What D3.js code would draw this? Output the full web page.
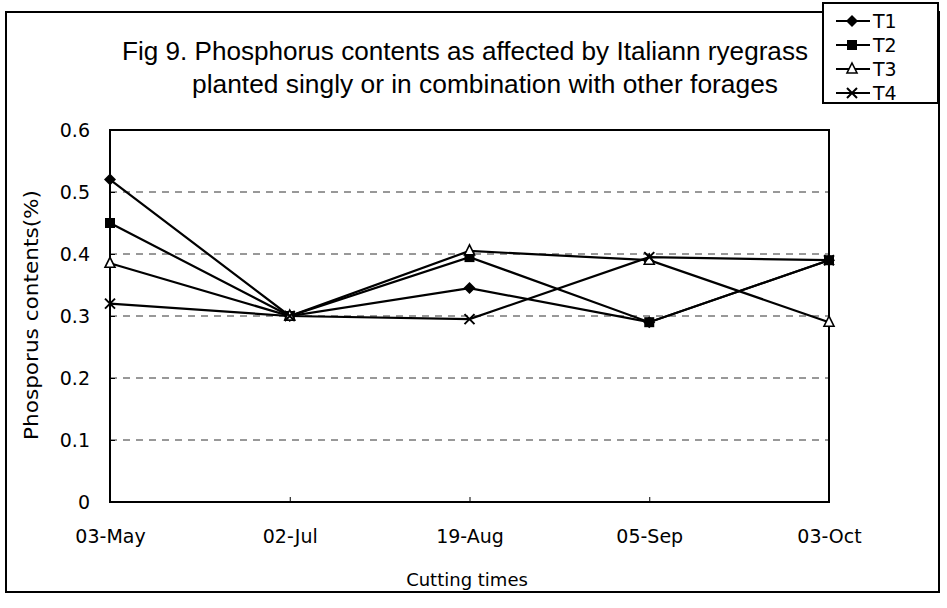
<!DOCTYPE html>
<html>
<head>
<meta charset="utf-8">
<script src="https://cdn.jsdelivr.net/npm/d3@7"></script>
<style>
  body { margin: 0; background: #fff; }
  svg { font-family: "DejaVu Sans", Verdana, sans-serif; }
  .grid line { stroke: #333; stroke-dasharray: 7 6; stroke-width: 1; }
  .series { fill: none; stroke: #000; stroke-width: 2.2; }
</style>
</head>
<body>
<svg id="chart" width="947" height="608"></svg>
<script>
// data
const cuttingTimes = ["03-May", "02-Jul", "19-Aug", "05-Sep", "03-Oct"];
const t1 = [0.52, 0.30, 0.345, 0.29, 0.39];
const t2 = [0.45, 0.30, 0.395, 0.29, 0.39];
const t3 = [0.385, 0.30, 0.405, 0.39, 0.29];
const t4 = [0.32, 0.30, 0.295, 0.395, 0.39];
const yTicks = [0, 0.1, 0.2, 0.3, 0.4, 0.5, 0.6];
const seriesNames = ["T1", "T2", "T3", "T4"];
const markers = ["diamond", "square", "triangle", "cross"];

const svg = d3.select("#chart");
const plot = { left: 110, right: 829, top: 130, bottom: 502 };

const x = d3.scalePoint().domain(cuttingTimes).range([plot.left, plot.right]);
const y = d3.scaleLinear().domain([0, 0.6]).range([plot.bottom, plot.top]);

// outer frame
svg.append("rect")
  .attr("x", 6).attr("y", 12).attr("width", 933).attr("height", 580)
  .attr("fill", "none").attr("stroke", "#000").attr("stroke-width", 2);

// title (the scanned font is wider than Arial, so stretch a little)
const title = svg.append("text")
  .attr("text-anchor", "middle")
  .attr("font-family", "Liberation Sans, Arial, sans-serif")
  .attr("font-size", 25)
  .attr("fill", "#000");
title.append("tspan").attr("x", 465).attr("y", 60)
  .attr("textLength", 686).attr("lengthAdjust", "spacingAndGlyphs")
  .text("Fig 9. Phosphorus contents as affected by Italiann ryegrass");
title.append("tspan").attr("x", 485).attr("y", 93)
  .attr("textLength", 586).attr("lengthAdjust", "spacingAndGlyphs")
  .text("planted singly or in combination with other forages");

// gridlines
svg.append("g").attr("class", "grid")
  .selectAll("line")
  .data(yTicks.filter(d => d > 0 && d < 0.6))
  .enter()
  .append("line")
  .attr("x1", plot.left).attr("x2", plot.right)
  .attr("y1", d => y(d)).attr("y2", d => y(d));

// plot border
svg.append("rect")
  .attr("x", plot.left).attr("y", plot.top)
  .attr("width", plot.right - plot.left).attr("height", plot.bottom - plot.top)
  .attr("fill", "none").attr("stroke", "#000").attr("stroke-width", 2);

// y axis (ticks point into the plot)
const yAxis = svg.append("g")
  .attr("transform", `translate(${plot.left},0)`)
  .call(d3.axisLeft(y).tickValues(yTicks).tickSize(-5).tickFormat(d => d === 0 ? "0" : d3.format(".1f")(d)));
yAxis.select(".domain").remove();
yAxis.selectAll("text").attr("font-size", 19).attr("font-family", "DejaVu Sans, Verdana, sans-serif")
  .attr("x", -20).attr("fill", "#000");

// x axis
const xAxis = svg.append("g")
  .attr("transform", `translate(0,${plot.bottom})`)
  .call(d3.axisBottom(x).tickSize(5));
xAxis.select(".domain").remove();
xAxis.selectAll("line").attr("transform", "translate(0,-5)");
xAxis.selectAll("text").attr("font-size", 19).attr("font-family", "DejaVu Sans, Verdana, sans-serif")
  .attr("y", 28).attr("fill", "#000");

// axis titles
svg.append("text")
  .attr("x", 467).attr("y", 586)
  .attr("text-anchor", "middle")
  .attr("font-size", 18)
  .text("Cutting times");

svg.append("text")
  .attr("transform", "translate(38,315) rotate(-90)")
  .attr("text-anchor", "middle")
  .attr("font-size", 20)
  .attr("textLength", 250).attr("lengthAdjust", "spacingAndGlyphs")
  .text("Phosporus contents(%)");

// marker shapes
function drawMarker(g, type, cx, cy) {
  if (type === "diamond") {
    g.append("path").attr("d", `M${cx},${cy - 6}L${cx + 6},${cy}L${cx},${cy + 6}L${cx - 6},${cy}Z`).attr("fill", "#000");
  } else if (type === "square") {
    g.append("rect").attr("x", cx - 5).attr("y", cy - 5).attr("width", 10).attr("height", 10).attr("fill", "#000");
  } else if (type === "triangle") {
    g.append("path").attr("d", `M${cx},${cy - 6}L${cx + 5},${cy + 4}L${cx - 5},${cy + 4}Z`)
      .attr("fill", "#fff").attr("stroke", "#000").attr("stroke-width", 1.6);
  } else {
    g.append("path").attr("d", `M${cx - 5},${cy - 5}L${cx + 5},${cy + 5}M${cx - 5},${cy + 5}L${cx + 5},${cy - 5}`)
      .attr("stroke", "#000").attr("stroke-width", 2);
  }
}

const allSeries = [t1, t2, t3, t4];
const line = d3.line().x((d, i) => x(cuttingTimes[i])).y(d => y(d));

allSeries.forEach((vals, s) => {
  svg.append("path").datum(vals).attr("class", "series").attr("d", line);
});
allSeries.forEach((vals, s) => {
  const g = svg.append("g");
  vals.forEach((v, i) => drawMarker(g, markers[s], x(cuttingTimes[i]), y(v)));
});

// legend
const legend = svg.append("g");
legend.append("rect")
  .attr("x", 823).attr("y", 3).attr("width", 115).attr("height", 100)
  .attr("fill", "#fff").attr("stroke", "#000").attr("stroke-width", 2);
seriesNames.forEach((name, i) => {
  const ly = 21 + i * 24;
  legend.append("line").attr("x1", 836).attr("x2", 870).attr("y1", ly).attr("y2", ly)
    .attr("stroke", "#000").attr("stroke-width", 2);
  drawMarker(legend, markers[i], 852, ly);
  legend.append("text").attr("x", 873).attr("y", ly + 7).attr("font-size", 19).text(name);
});
</script>
</body>
</html>
